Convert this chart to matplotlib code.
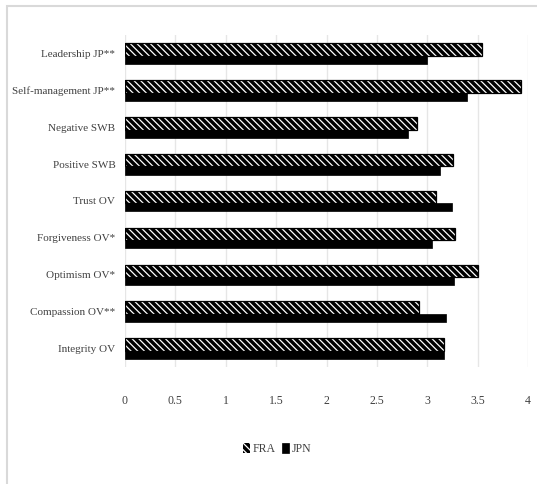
import matplotlib
matplotlib.use("Agg")
import matplotlib.pyplot as plt
from matplotlib.patches import Rectangle
import numpy as np

categories = ["Integrity OV", "Compassion OV**", "Optimism OV*", "Forgiveness OV*",
              "Trust OV", "Positive SWB", "Negative SWB", "Self-management JP**",
              "Leadership JP**"]
fra = [3.17, 2.92, 3.50, 3.28, 3.09, 3.26, 2.90, 3.93, 3.54]
jpn = [3.17, 3.19, 3.27, 3.05, 3.25, 3.13, 2.81, 3.39, 3.00]
xticks = [0, 0.5, 1, 1.5, 2, 2.5, 3, 3.5, 4]
xticklabels = ["0", "0.5", "1", "1.5", "2", "2.5", "3", "3.5", "4"]

plt.rcParams['font.family'] = ['Liberation Serif', 'DejaVu Serif']
plt.rcParams['hatch.linewidth'] = 0.9

W, H = 537, 484
fig = plt.figure(figsize=(W / 100, H / 100), dpi=100)
fig.patches.append(Rectangle((7 / W, -0.1), 1.2, (H - 6) / H + 0.1,
                             transform=fig.transFigure, fill=False,
                             edgecolor='#d9d9d9', linewidth=1.5))

ax = fig.add_axes([125 / W, (H - 367) / H, (528 - 125) / W, (367 - 35) / H])

y = np.arange(len(categories))
h_fra, h_jpn = 0.34, 0.22
top = 0.2775
y_fra = y + top - h_fra / 2
y_jpn = y + top - h_fra - h_jpn / 2

hb = ax.barh(y_fra, fra, height=h_fra, color='black', edgecolor='white',
             linewidth=0, hatch='\\\\\\\\\\', label='FRA', zorder=3)
ax.barh(y_fra, fra, height=h_fra, fill=False, edgecolor='black',
        linewidth=0.9, zorder=4)
jb = ax.barh(y_jpn, jpn, height=h_jpn, color='black', edgecolor='black',
             linewidth=0.5, label='JPN', zorder=3)

ax.set_xlim(0, 4)
ax.set_ylim(-0.5, len(categories) - 0.5)
ax.set_yticks(y)
ax.set_yticklabels(categories, fontsize=8, color='#404040')
ax.set_xticks(xticks)
ax.set_xticklabels(xticklabels, fontsize=8.5, color='#404040')
ax.tick_params(axis='both', length=0)
ax.tick_params(axis='x', pad=20)
ax.tick_params(axis='y', pad=7)
ax.grid(axis='x', color='#e6e6e6', linewidth=1, zorder=0)
ax.grid(axis='y', visible=False)
for s in ax.spines.values():
    s.set_visible(False)

fig.legend(handles=[hb, jb], labels=['FRA', 'JPN'], loc='center',
           bbox_to_anchor=(277 / W, (H - 449) / H), ncol=2, frameon=False,
           fontsize=8.5, handlelength=0.6, handleheight=1.0,
           handletextpad=0.2, columnspacing=0.6, labelcolor='#404040')

fig.savefig("out.png", dpi=100)
